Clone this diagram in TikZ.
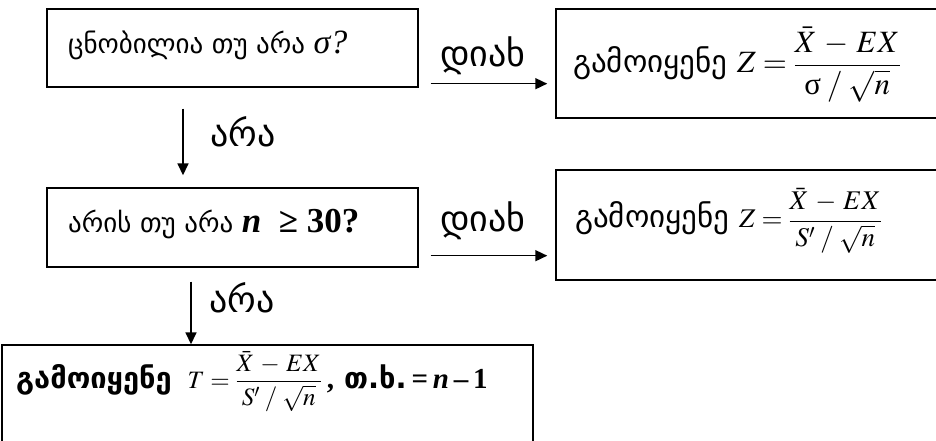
\documentclass[tikz,border=0pt]{standalone}
\usepackage{mathptmx}
\usepackage{fontspec}
\newfontfamily\geo{DejaVu Sans}
\newfontfamily\tms{Liberation Serif}
\usetikzlibrary{arrows.meta,calc}
\newcommand{\wminus}{\mathbin{\mskip2mu-\mskip2mu}}
\newcommand{\wslash}{\mathbin{\mskip1mu/\mskip1mu}}
\tikzset{
  box/.style={draw, line width=1.4bp, inner sep=0pt},
  arr/.style={line width=1.6bp, -{Triangle[length=12bp,width=11bp]}},
  lbl/.style={inner sep=0pt, anchor=base west, font=\geo\fontsize{36bp}{40bp}\selectfont},
  txt/.style={inner sep=0pt, anchor=base west}
}
\begin{document}
\begin{tikzpicture}[x=1bp,y=-1bp]
\path[use as bounding box] (0,0) rectangle (936,441);
% boxes
\node[box, minimum width=371bp, minimum height=78bp] (b1) at (232.5,48) {};
\node[box, minimum width=371bp, minimum height=79bp] (b3) at (232.5,227.5) {};
\node[box, minimum width=394bp, minimum height=109bp] (b2) at (753,63.5) {};
\node[box, minimum width=394bp, minimum height=110bp] (b4) at (753,225) {};
\node[box, minimum width=531bp, minimum height=140bp] (b5) at (267.5,415) {};
% texts
\node[txt, font=\geo\fontsize{27bp}{31bp}\selectfont] (t1) at (68,54)
  {ცნობილია თუ არა {\tms\itshape\fontsize{34bp}{37bp}\selectfont σ?}};
\node[txt, font=\geo\fontsize{27bp}{31bp}\selectfont] (t3) at (68,233)
  {არის თუ არა {\tms\bfseries\fontsize{35bp}{38bp}\selectfont\itshape n\ \ \upshape ≥ 30?}};
\node[txt, font=\geo\fontsize{31bp}{35bp}\selectfont] (t2) at (573,73)
  {გამოიყენე \fontsize{31bp}{34bp}\selectfont$\displaystyle Z=\frac{\bar{X}\wminus EX}{\mbox{\tms σ}\wslash\sqrt{n}}$};
\node[txt, font=\geo\fontsize{31bp}{35bp}\selectfont] (t4) at (575,228)
  {გამოიყენე \fontsize{27bp}{30bp}\selectfont$\displaystyle Z=\frac{\bar{X}\wminus EX}{S'\wslash\sqrt{n}}$};
\node[txt, font=\geo\bfseries\fontsize{29bp}{33bp}\selectfont] (t5) at (16,388)
  {გამოიყენე\hspace{16bp}\fontsize{25bp}{28bp}\selectfont$\displaystyle T=\frac{\bar{X}\wminus EX}{S'\wslash\sqrt{n}}$\fontsize{29bp}{33bp}\selectfont{\tms\bfseries\,,} თ.ხ.{\tms\bfseries\,=\,}{\tms\bfseries\itshape n}{\tms\bfseries\,–\,1}};
% labels
\node[lbl] (l1) at (440,67) {დიახ};
\node[lbl] (l2) at (440,232) {დიახ};
\node[lbl] (l3) at (210,147) {არა};
\node[lbl] (l4) at (209,313) {არა};
% connectors
\coordinate (c1) at (183,0);
\coordinate (c2) at (191,0);
\coordinate (a1s) at ($(b1.south east)+(12,-4)$);
\coordinate (a2s) at ($(b3.south east)+(12,-12)$);
\draw[arr] (a1s) -- ($(b2.west |- a1s)+(-8,0)$);
\draw[arr] (a2s) -- ($(b4.west |- a2s)+(-8,0)$);
\draw[arr] ($(b1.south -| c1)+(0,21)$) -- ($(b3.north -| c1)+(0,-12)$);
\draw[arr] ($(b3.south -| c2)+(0,14)$) -- (b5.north -| c2);
\end{tikzpicture}
\end{document}
